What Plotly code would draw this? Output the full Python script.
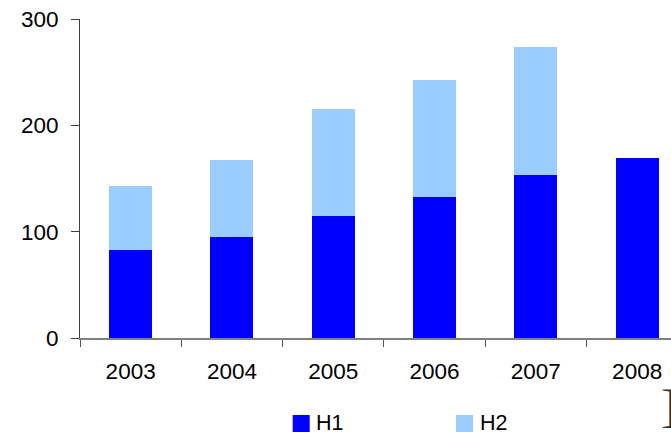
import plotly.graph_objects as go

years = ["2003", "2004", "2005", "2006", "2007", "2008"]
h1 = [82.6, 94.8, 114.6, 132.5, 153.2, 169.2]
h2 = [60.2, 72.5, 100.6, 110.1, 120.5, None]
series_names = ["H1", "H2"]
series_colors = ["#0000FF", "#99CCFF"]
y_ticks = [0, 100, 200, 300]

W, H = 671, 433
L, R, T, B = 80, 0, 19, 95
pw, ph = W - L - R, H - T - B

FONT = "Liberation Sans, Arial, sans-serif"
FS = 22.5

fig = go.Figure()
for name, vals, col in zip(series_names, [h1, h2], series_colors):
    fig.add_trace(go.Bar(x=years, y=vals, name=name, marker=dict(color=col, line=dict(width=0)),
                         showlegend=False))

# category spacing ~101.3 px
cat_px = 101.3
x_right = -0.5 + pw / cat_px

def px2paper_x(px):
    return (px - L) / pw

def px2paper_y(py):
    return (H - B - py) / ph

shapes = []
annotations = []
legend_x = [292.7, 456]
for name, col, sx in zip(series_names, series_colors, legend_x):
    shapes.append(dict(type="rect", xref="paper", yref="paper",
                       x0=px2paper_x(sx), x1=px2paper_x(sx + 17),
                       y0=px2paper_y(432), y1=px2paper_y(415),
                       fillcolor=col, line=dict(width=0)))
    annotations.append(dict(text=name, xref="paper", yref="paper",
                            x=px2paper_x(sx + 21.5), y=px2paper_y(422.5),
                            xanchor="left", yanchor="middle", showarrow=False,
                            font=dict(family=FONT, size=21.5, color="#000000")))

annotations.append(dict(text="]", xref="paper", yref="paper",
                        x=px2paper_x(678), y=px2paper_y(406),
                        xanchor="right", yanchor="middle", showarrow=False,
                        font=dict(family="Liberation Serif, serif", size=46, color="#333333")))

fig.update_layout(
    width=W, height=H,
    margin=dict(l=L, r=R, t=T, b=B, pad=0),
    barmode="stack",
    bargap=0.575,
    plot_bgcolor="white", paper_bgcolor="white",
    font=dict(family=FONT, size=FS, color="#000000"),
    shapes=shapes,
    annotations=annotations,
    xaxis=dict(type="category", range=[-0.5, x_right], showgrid=False, zeroline=False,
               showline=True, linecolor="#808080", linewidth=2,
               ticks="outside", ticklen=7, tickcolor="#555555", tickwidth=1,
               tickson="boundaries", tickfont=dict(size=FS), ticklabelstandoff=12),
    yaxis=dict(range=[0, 300], tickvals=y_ticks, showgrid=False, zeroline=False,
               showline=True, linecolor="#404040", linewidth=1,
               ticks="outside", ticklen=8, tickcolor="#404040",
               tickfont=dict(size=FS), ticklabelstandoff=8),
)

fig.write_html("out.html")
